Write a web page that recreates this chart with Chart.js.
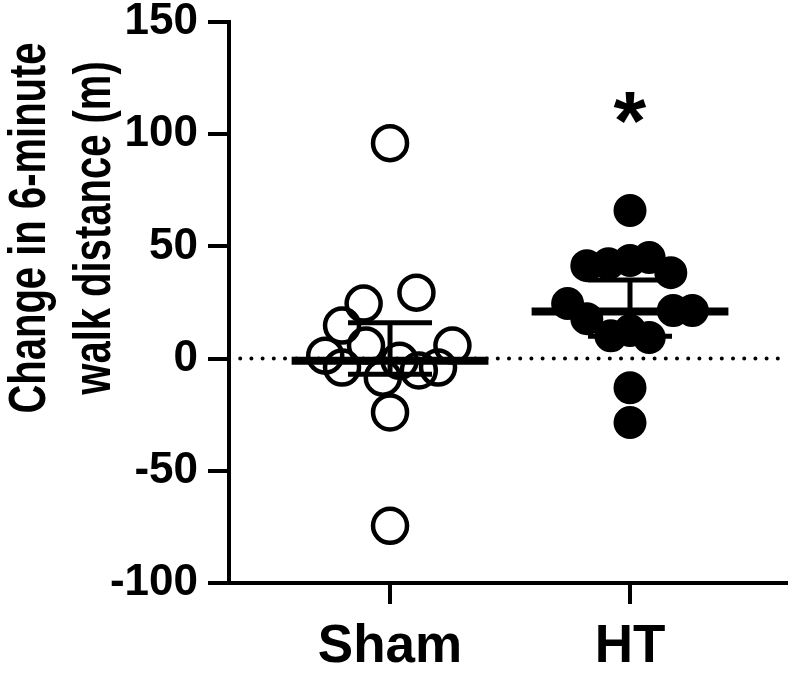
<!DOCTYPE html>
<html>
<head>
<meta charset="utf-8">
<script src="https://cdn.jsdelivr.net/npm/chart.js@4.4.1/dist/chart.umd.min.js"></script>
<style>
  html, body { margin: 0; padding: 0; background: #fff; }
</style>
</head>
<body>
<canvas id="c" width="792" height="685"></canvas>
<script>
// data
const groups = ["Sham", "HT"];
const yTicks = [-100, -50, 0, 50, 100, 150];

const shamValues = [96, 29.4, 24.5, 14.7, 5.8, 5.8, 1.3, -4, -8.5, -1, -5.3, -4, -24, -74.5];
const shamJitter = [0, 0.11, -0.11, -0.2, 0.26, -0.1, -0.27, -0.2, -0.03, 0.04, 0.12, 0.2, 0, 0];

const htValues = [66, 41.4, 42.3, 43.7, 45, 38.3, 24.5, 17.8, 21.4, 21.4, 10.2, 12.5, 9.4, -13, -28.5];
const htJitter = [0, -0.18, -0.09, 0, 0.08, 0.17, -0.26, -0.18, 0.18, 0.26, -0.08, 0, 0.08, 0, 0];

// median with interquartile range per group
const medians = [-1, 21];
const q1 = [-7, 10];
const q3 = [16, 35];

const sigMark = "*";
const sigValue = 111.5;

const FONT = "'Liberation Sans', Arial, sans-serif";
const X_MIN = 0.329, X_MAX = 2.65;

function pts(vals, jit, g) {
  return vals.map((v, i) => ({ x: g + 1 + jit[i], y: v }));
}

const summaryPlugin = {
  id: "summary",
  afterDatasetsDraw(chart) {
    const { ctx, scales: { x, y } } = chart;
    ctx.save();
    ctx.strokeStyle = "#000";
    groups.forEach((g, i) => {
      const cx = i + 1;
      // whisker
      ctx.lineWidth = 5;
      ctx.beginPath();
      ctx.moveTo(x.getPixelForValue(cx), y.getPixelForValue(q1[i]));
      ctx.lineTo(x.getPixelForValue(cx), y.getPixelForValue(q3[i]));
      [q1[i], q3[i]].forEach(q => {
        ctx.moveTo(x.getPixelForValue(cx - 0.175), y.getPixelForValue(q));
        ctx.lineTo(x.getPixelForValue(cx + 0.175), y.getPixelForValue(q));
      });
      ctx.stroke();
      // median
      ctx.lineWidth = 8;
      ctx.beginPath();
      ctx.moveTo(x.getPixelForValue(cx - 0.41), y.getPixelForValue(medians[i]));
      ctx.lineTo(x.getPixelForValue(cx + 0.41), y.getPixelForValue(medians[i]));
      ctx.stroke();
    });

    // significance star over HT
    ctx.fillStyle = "#000";
    ctx.font = "bold 84px " + FONT;
    const m = ctx.measureText(sigMark);
    const sx = x.getPixelForValue(2), sy = y.getPixelForValue(sigValue);
    const w = m.actualBoundingBoxRight + m.actualBoundingBoxLeft;
    const h = m.actualBoundingBoxAscent + m.actualBoundingBoxDescent;
    ctx.textAlign = "left";
    ctx.textBaseline = "alphabetic";
    ctx.fillText(sigMark, sx - w / 2 + m.actualBoundingBoxLeft, sy - h / 2 + m.actualBoundingBoxAscent);
    ctx.restore();
  }
};

const yTitlePlugin = {
  id: "ytitle",
  afterDraw(chart) {
    const ctx = chart.ctx;
    const lines = [["Change in 6-minute", 45], ["walk distance (m)", 110]];
    ctx.save();
    ctx.fillStyle = "#000";
    ctx.font = "bold 40px " + FONT;
    ctx.textAlign = "center";
    ctx.textBaseline = "alphabetic";
    lines.forEach(([t, bx]) => {
      ctx.save();
      ctx.translate(bx, 228);
      ctx.rotate(-Math.PI / 2);
      ctx.scale(1, 1.3);
      ctx.fillText(t, 0, 0);
      ctx.restore();
    });
    ctx.restore();
  }
};

new Chart(document.getElementById("c"), {
  type: "scatter",
  data: {
    datasets: [
      {
        data: pts(shamValues, shamJitter, 0),
        pointRadius: 17,
        pointBorderWidth: 4.5,
        borderColor: "#000",
        backgroundColor: "rgba(0,0,0,0)",
      },
      {
        data: pts(htValues, htJitter, 1),
        pointRadius: 15.5,
        pointBorderWidth: 2,
        borderColor: "#000",
        backgroundColor: "#000",
      },
      {
        data: [{ x: X_MIN, y: 0 }, { x: X_MAX, y: 0 }],
        showLine: true,
        pointRadius: 0,
        borderColor: "#000",
        borderWidth: 4,
        borderDash: [0, 11.2],
        borderCapStyle: "round",
      },
    ],
  },
  options: {
    responsive: false,
    animation: false,
    events: [],
    layout: { autoPadding: false, padding: { top: 22, right: 6, left: 0, bottom: 0 } },
    plugins: { legend: { display: false }, tooltip: { enabled: false } },
    scales: {
      x: {
        type: "linear",
        min: X_MIN,
        max: X_MAX,
        afterFit: s => { s.height = 102; s.paddingLeft = 0; s.paddingRight = 0; },
        afterBuildTicks: s => { s.ticks = groups.map((_, i) => ({ value: i + 1 })); },
        border: { color: "#000", width: 4 },
        grid: { drawOnChartArea: false, color: "#000", lineWidth: 4, tickLength: 21 },
        ticks: {
          color: "#000",
          padding: 17,
          font: { family: FONT, size: 53, weight: "bold", lineHeight: 1 },
          callback: v => groups[v - 1] || "",
        },
      },
      y: {
        min: -100,
        max: 150,
        afterFit: s => { s.width = 229; },
        afterBuildTicks: s => { s.ticks = yTicks.map(v => ({ value: v })); },
        border: { color: "#000", width: 4 },
        grid: { drawOnChartArea: false, color: "#000", lineWidth: 4, tickLength: 21 },
        ticks: {
          color: "#000",
          padding: 10,
          font: { family: FONT, size: 44, weight: "bold", lineHeight: 0.5 },
        },
      },
    },
  },
  plugins: [summaryPlugin, yTitlePlugin],
});
</script>
</body>
</html>
